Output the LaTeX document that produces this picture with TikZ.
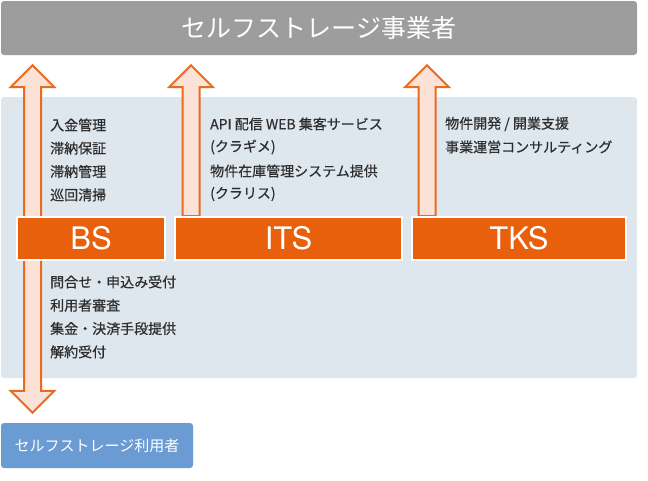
\documentclass[tikz,border=0pt]{standalone}
\usepackage{fontspec}
\setmainfont{TeX Gyre Heros}
\newfontfamily\jp{Noto Sans CJK JP}
\newfontfamily\jpitem[FakeBold=0.6]{Noto Sans CJK JP}
\usetikzlibrary{calc,backgrounds}

\definecolor{topgray}{HTML}{9C9D9C}
\definecolor{panelblue}{HTML}{DFE7EE}
\definecolor{svcorange}{HTML}{E8600B}
\definecolor{arrowfill}{HTML}{FCE1D6}
\definecolor{arrowline}{HTML}{EA6A1E}
\definecolor{userblue}{HTML}{6B9BD3}
\definecolor{itemtext}{HTML}{2E2E2E}

\tikzset{
  svc/.style={draw=white, line width=2pt, fill=svcorange, text=white, inner sep=0pt,
    minimum height=43pt, font=\fontsize{31}{31}\selectfont},
  item/.style={anchor=west, inner sep=0pt, text=itemtext, font=\jpitem\fontsize{14}{16}\selectfont},
  blockarrow/.style={draw=arrowline, fill=arrowfill, line width=2pt, line join=miter},
}

% single arrow: #1 tip, #2 base
\newcommand{\svcarrow}[2]{%
  \draw[blockarrow] (#1) -- ++(\headw,\headl) -- ++({\shaftw-\headw},0) -- ($(#2)+(\shaftw,0)$)
    -- ++({-2*\shaftw},0) -- ($(#1)+(-\shaftw,\headl)$) -- ++({\shaftw-\headw},0) -- cycle;}

\begin{document}
\begin{tikzpicture}[x=1pt,y=-1pt]
    \useasboundingbox (0,0) rectangle (648,480);

    \pgfmathsetmacro{\headw}{22}
    \pgfmathsetmacro{\headl}{22}
    \pgfmathsetmacro{\shaftw}{8.5}

    \node[fill=topgray, rounded corners=3pt, minimum width=636pt, minimum height=54pt, inner sep=0pt,
      text=white, font=\jp\fontsize{25}{25}\selectfont] (top) at (319,28) {セルフストレージ事業者};

    \node[svc, minimum width=148pt] (bs) at (91,238.5) {BS};
    \node[svc, minimum width=227pt] (its) at (288.5,238.5) {ITS};
    \node[svc, minimum width=214pt] (tks) at (519,238.5) {TKS};

    \node[fill=userblue, rounded corners=3pt, minimum width=192pt, minimum height=45pt, inner sep=0pt,
      text=white, font=\jp\fontsize{15}{15}\selectfont] (user) at (97,445.5) {セルフストレージ利用者};

    \coordinate (bs-up) at ([xshift=16.5pt,yshift=-10pt]bs.west |- top.south);
    \coordinate (bs-down) at ([xshift=16.5pt,yshift=10pt]bs.west |- user.north);
    \coordinate (its-base) at ([xshift=17pt]its.north west);
    \coordinate (its-tip) at ([yshift=-10pt]its-base |- top.south);
    \coordinate (tks-base) at ([xshift=16pt]tks.north west);
    \coordinate (tks-tip) at ([yshift=-10pt]tks-base |- top.south);

    \begin{scope}[on background layer]
        \node[fill=panelblue, rounded corners=3pt, minimum width=636pt, minimum height=281pt, inner sep=0pt]
          (panel) at (319,237.5) {};
        \draw[blockarrow] (bs-up) -- ++(\headw,\headl) -- ++({\shaftw-\headw},0) -- ($(bs-down)+(\shaftw,-\headl)$)
          -- ++({\headw-\shaftw},0) -- (bs-down) -- ++(-\headw,-\headl) -- ++({\headw-\shaftw},0)
          -- ($(bs-up)+(-\shaftw,\headl)$) -- ++({\shaftw-\headw},0) -- cycle;
        \svcarrow{its-tip}{its-base}
        \svcarrow{tks-tip}{tks-base}
    \end{scope}

    \foreach \t [count=\i] in {入金管理,滞納保証,滞納管理,巡回清掃}
        \node[item] (bs-in-\i) at (50,{125+23.3*(\i-1)}) {\t};
    \foreach \t [count=\i] in {問合せ・申込み受付,利用者審査,集金・決済手段提供,解約受付}
        \node[item] (bs-out-\i) at (50,{282+23.3*(\i-1)}) {\t};
    \node[item] (its-1) at (210,124) {API 配信 WEB 集客サービス};
    \node[item] (its-2) at (210,147) {(クラギメ)};
    \node[item] (its-3) at (210,171) {物件在庫管理システム提供};
    \node[item] (its-4) at (210,194) {(クラリス)};
    \foreach \t [count=\i] in {物件開発 / 開業支援,事業運営コンサルティング}
        \node[item] (tks-\i) at (445,{124+23*(\i-1)}) {\t};
\end{tikzpicture}
\end{document}
